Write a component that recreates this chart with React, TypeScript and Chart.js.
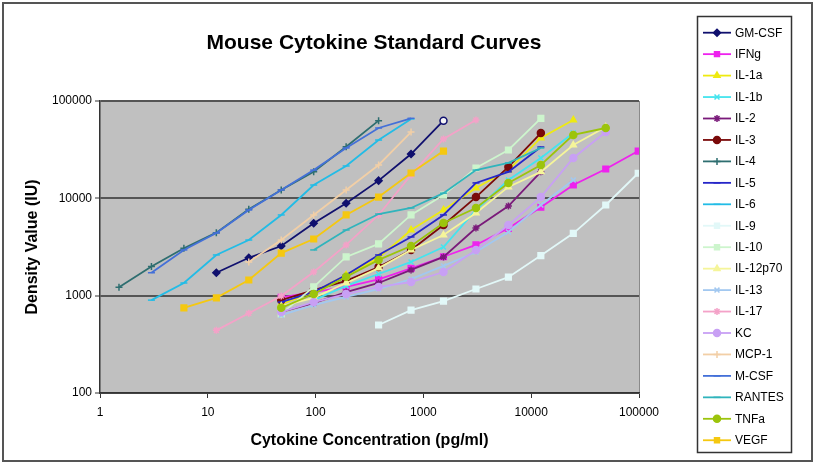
import React, { useEffect, useRef } from 'react';
import { Chart, registerables } from 'chart.js';
import { drawPoint } from 'chart.js/helpers';

Chart.register(...registerables);

const chartTitle = 'Mouse Cytokine Standard Curves';
const xAxisTitle = 'Cytokine Concentration (pg/ml)';
const yAxisTitle = 'Density Value (IU)';
const xTickValues = [1, 10, 100, 1000, 10000, 100000];
const yTickValues = [100, 1000, 10000, 100000];

const seriesNames = ['GM-CSF', 'IFNg', 'IL-1a', 'IL-1b', 'IL-2', 'IL-3', 'IL-4', 'IL-5', 'IL-6', 'IL-9', 'IL-10', 'IL-12p70', 'IL-13', 'IL-17', 'KC', 'MCP-1', 'M-CSF', 'RANTES', 'TNFa', 'VEGF'];

const gmcsfX = [12, 24, 48, 96, 192, 384, 768, 1536];
const gmcsfY = [1720, 2450, 3240, 5540, 8890, 15200, 28500, 62800];
const ifngX = [48, 96, 192, 384, 768, 1536, 3072, 6144, 12288, 24576, 49152, 98304];
const ifngY = [960, 1090, 1230, 1470, 1910, 2510, 3320, 4920, 8090, 13700, 20000, 30600];
const il1aX = [48, 96, 192, 384, 768, 1536, 3072, 6144, 12288, 24576];
const il1aY = [820, 1090, 1630, 2440, 4730, 7590, 12800, 19500, 41700, 63800];
const il1bX = [96, 192, 384, 768, 1536, 3072, 6144, 12288, 24576];
const il1bY = [900, 1260, 1670, 2220, 3160, 7590, 15400, 26000, 46900];
const il2X = [48, 96, 192, 384, 768, 1536, 3072, 6144, 12288];
const il2Y = [680, 840, 1090, 1350, 1840, 2500, 4960, 8340, 18700];
const il3X = [48, 96, 192, 384, 768, 1536, 3072, 6144, 12288];
const il3Y = [900, 1140, 1420, 1970, 2950, 5320, 10300, 21000, 46900];
const il4X = [1.5, 3, 6, 12, 24, 48, 96, 192, 384];
const il4Y = [1220, 1990, 3070, 4440, 7710, 12200, 18800, 33900, 62800];
const il5X = [48, 96, 192, 384, 768, 1536, 3072, 6144, 12288];
const il5Y = [860, 1090, 1630, 2620, 4010, 6750, 14400, 18700, 33700];
const il6X = [3, 6, 12, 24, 48, 96, 192, 384, 768];
const il6Y = [900, 1350, 2620, 3730, 6750, 13700, 21500, 39700, 65400];
const il9X = [384, 768, 1536, 3072, 6144, 12288, 24576, 49152, 98304];
const il9Y = [500, 710, 880, 1170, 1550, 2580, 4370, 8540, 18100];
const il10X = [48, 96, 192, 384, 768, 1536, 3072, 6144, 12288];
const il10Y = [650, 1230, 2500, 3400, 6750, 10800, 20500, 31400, 66400];
const il12X = [48, 96, 192, 384, 768, 1536, 3072, 6144, 12288, 24576, 49152];
const il12Y = [780, 950, 1350, 1920, 2950, 4200, 7070, 13100, 18700, 35300, 54000];
const il13X = [48, 96, 192, 384, 768, 1536, 3072, 6144, 12288, 24576];
const il13Y = [630, 800, 970, 1170, 1480, 2020, 2810, 4510, 8540, 15400];
const il17X = [12, 24, 48, 96, 192, 384, 768, 1536, 3072];
const il17Y = [440, 660, 990, 1750, 3320, 6750, 17400, 40700, 63800];
const kcX = [48, 96, 192, 384, 768, 1536, 3072, 6144, 12288, 24576, 49152];
const kcY = [680, 860, 1040, 1230, 1380, 1750, 2950, 5320, 10300, 26000, 48000];
const mcp1X = [24, 48, 96, 192, 384, 768];
const mcp1Y = [2220, 3730, 6750, 12200, 22000, 48000];
const mcsfX = [3, 6, 12, 24, 48, 96, 192, 384, 768];
const mcsfY = [1720, 2950, 4400, 7590, 12200, 19500, 32900, 52800, 66400];
const rantesX = [96, 192, 384, 768, 1536, 3072, 6144, 12288];
const rantesY = [2950, 4730, 6900, 7960, 11300, 19500, 23100, 32900];
const tnfaX = [48, 96, 192, 384, 768, 1536, 3072, 6144, 12288, 24576, 49152];
const tnfaY = [750, 1040, 1560, 2330, 3240, 5580, 7960, 14400, 22000, 44800, 52800];
const vegfX = [6, 12, 24, 48, 96, 192, 384, 768, 1536];
const vegfY = [750, 950, 1450, 2740, 3820, 6750, 10300, 18200, 30600];

const seriesX = [gmcsfX, ifngX, il1aX, il1bX, il2X, il3X, il4X, il5X, il6X, il9X, il10X, il12X, il13X, il17X, kcX, mcp1X, mcsfX, rantesX, tnfaX, vegfX];
const seriesY = [gmcsfY, ifngY, il1aY, il1bY, il2Y, il3Y, il4Y, il5Y, il6Y, il9Y, il10Y, il12Y, il13Y, il17Y, kcY, mcp1Y, mcsfY, rantesY, tnfaY, vegfY];

const seriesColors = ['#10106e', '#ee22ee', '#eeea10', '#44e4ee', '#7a1a7a', '#7a0a0a', '#2e6e70', '#2626c8', '#22bce6', '#e2f8f8', '#cdf5cd', '#f5f59a', '#a2c8f0', '#f4a2c8', '#c8a0f4', '#f2cfa6', '#4470d8', '#30b4bc', '#9cc40c', '#f5c810'];
const seriesMarkers = ['rectRot', 'rect', 'triangle', 'crossRot', 'star', 'circle', 'cross', 'line', 'line', 'rect', 'rect', 'triangle', 'crossRot', 'star', 'circle', 'cross', 'line', 'line', 'circle', 'rect'];

const FONT = "'Liberation Sans', Arial, Helvetica, sans-serif";

const decorPlugin = {
  id: 'decor',
  beforeDraw(chart: any) {
    const { ctx, chartArea: a } = chart;
    ctx.save();
    ctx.fillStyle = '#ffffff';
    ctx.fillRect(0, 0, chart.width, chart.height);
    ctx.fillStyle = '#c0c0c0';
    ctx.fillRect(a.left, a.top, a.right - a.left, a.bottom - a.top);
    ctx.strokeStyle = '#8a8a8a';
    ctx.lineWidth = 1;
    ctx.beginPath();
    ctx.moveTo(a.right + 0.5, a.top);
    ctx.lineTo(a.right + 0.5, a.bottom);
    ctx.stroke();
    ctx.restore();
  },
  afterDraw(chart: any) {
    const { ctx } = chart;
    ctx.save();
    ctx.strokeStyle = '#555555';
    ctx.lineWidth = 2;
    ctx.strokeRect(3, 3, 809, 458);
    ctx.fillStyle = '#000';
    ctx.font = `bold 21px ${FONT}`;
    ctx.textAlign = 'center';
    ctx.textBaseline = 'middle';
    ctx.fillText(chartTitle, 374, 43);
    ctx.strokeStyle = '#333333';
    ctx.lineWidth = 1.5;
    ctx.strokeRect(697.5, 16.5, 94, 436);
    ctx.font = `12px ${FONT}`;
    ctx.textAlign = 'left';
    chart.data.datasets.forEach((ds: any, i: number) => {
      const y = 32.7 + i * 21.45;
      const color = seriesColors[i];
      ctx.strokeStyle = color;
      ctx.lineWidth = 1.8;
      ctx.beginPath();
      ctx.moveTo(703, y);
      ctx.lineTo(731, y);
      ctx.stroke();
      ctx.fillStyle = color;
      ctx.strokeStyle = color;
      ctx.lineWidth = 1.5;
      drawPoint(ctx, { pointStyle: seriesMarkers[i], radius: 3.5, rotation: 0, borderWidth: 1.5 }, 717, y);
      ctx.fillStyle = '#000';
      ctx.fillText(ds.label, 735, y + 0.5);
    });
    ctx.restore();
  },
};

export default function App() {
  const canvasRef = useRef<HTMLCanvasElement | null>(null);

  useEffect(() => {
    const canvas = canvasRef.current;
    if (!canvas) return;
    const datasets = seriesNames.map((name, i) => {
      const n = seriesX[i].length;
      const isGm = i === 0;
      return {
        label: name,
        data: seriesX[i].map((x, j) => ({ x, y: seriesY[i][j] })),
        borderColor: seriesColors[i],
        backgroundColor: seriesColors[i],
        pointBackgroundColor: isGm ? seriesX[i].map((_, j) => (j === n - 1 ? '#f4f4f4' : seriesColors[i])) : seriesColors[i],
        pointBorderColor: seriesColors[i],
        pointStyle: isGm ? seriesX[i].map((_, j) => (j === n - 1 ? 'circle' : seriesMarkers[i])) : seriesMarkers[i],
        pointRadius: seriesMarkers[i] === 'rect' ? 4 : 3.5,
        pointBorderWidth: 1.5,
        borderWidth: 1.8,
        tension: 0,
        fill: false,
        order: -i,
      };
    });

    const chart = new Chart(canvas, {
      type: 'line',
      data: { datasets },
      options: {
        animation: false,
        responsive: false,
        devicePixelRatio: 1,
        layout: { padding: { left: 20, right: 176, top: 101, bottom: 0 } },
        plugins: {
          legend: { display: false },
          title: { display: false },
          tooltip: { enabled: false },
        },
        scales: {
          x: {
            type: 'logarithmic',
            min: 1,
            max: 100000,
            afterBuildTicks: (s: any) => {
              s.ticks = xTickValues.map((v) => ({ value: v }));
            },
            afterFit: (s: any) => {
              s.height = 73;
            },
            ticks: {
              autoSkip: false,
              maxRotation: 0,
              padding: 7,
              color: '#000',
              font: { family: FONT, size: 12 },
              callback: (v: any) => String(v),
            },
            grid: {
              drawOnChartArea: false,
              drawTicks: true,
              tickLength: 5,
              tickColor: '#333',
              tickWidth: 1,
            },
            border: { color: '#333', width: 1.5 },
            title: {
              display: true,
              text: xAxisTitle,
              color: '#000',
              font: { family: FONT, size: 16, weight: 'bold' },
              padding: { top: 0, bottom: 16 },
            },
          },
          y: {
            type: 'logarithmic',
            min: 100,
            max: 100000,
            afterBuildTicks: (s: any) => {
              s.ticks = yTickValues.map((v) => ({ value: v }));
            },
            afterFit: (s: any) => {
              s.width = 80;
            },
            ticks: {
              padding: 3,
              color: '#000',
              font: { family: FONT, size: 12 },
              callback: (v: any) => String(v),
            },
            grid: {
              color: '#555555',
              lineWidth: 2,
              drawTicks: true,
              tickLength: 5,
              tickColor: '#333',
              tickWidth: 1,
            },
            border: { color: '#333', width: 1.5 },
            title: {
              display: true,
              text: yAxisTitle,
              color: '#000',
              font: { family: FONT, size: 16, weight: 'bold' },
              padding: { top: 3, bottom: 0 },
            },
          },
        },
      } as any,
      plugins: [decorPlugin],
    });
    return () => chart.destroy();
  }, []);

  return (
    <div style={{ position: 'absolute', left: 0, top: 0, width: 815, height: 466, background: '#fff' }}>
      <canvas ref={canvasRef} width={815} height={466} style={{ display: 'block', width: 815, height: 466 }} />
    </div>
  );
}
